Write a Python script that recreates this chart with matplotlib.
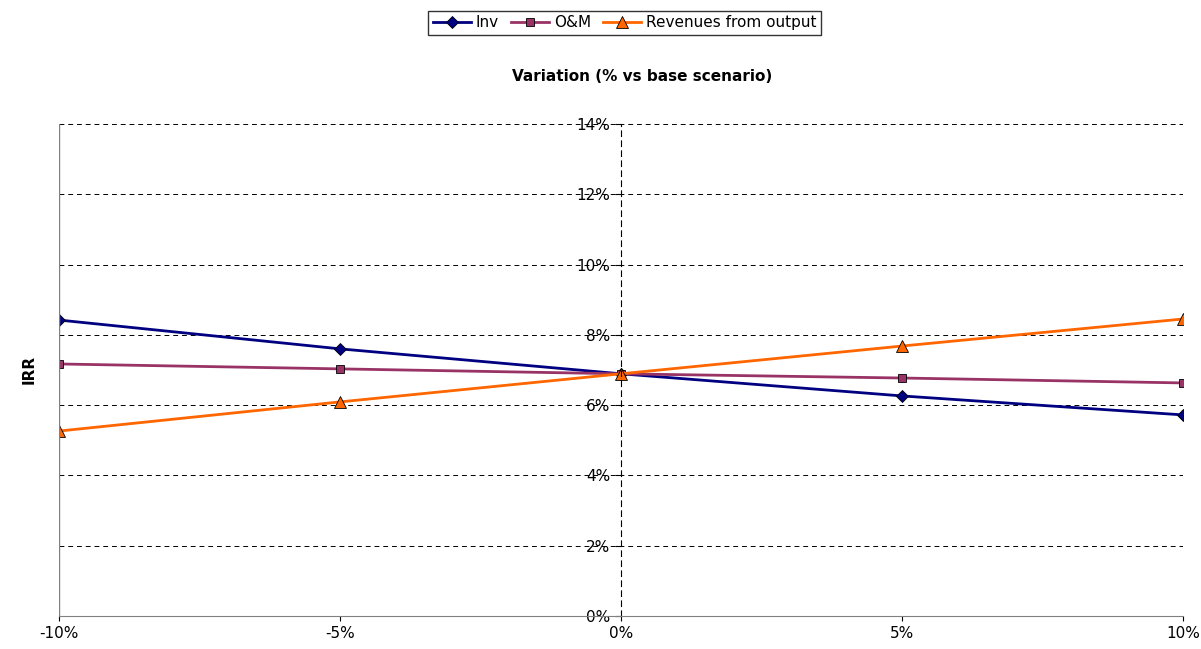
import matplotlib.pyplot as plt
from matplotlib.ticker import FuncFormatter

variation = [-10, -5, 0, 5, 10]
inv = [8.42, 7.60, 6.89, 6.26, 5.72]
om = [7.17, 7.03, 6.89, 6.77, 6.63]
revenues = [5.26, 6.09, 6.89, 7.68, 8.45]

fig = plt.figure(figsize=(12.01, 6.49), dpi=100)
ax = fig.add_axes([0.049, 0.051, 0.936, 0.758])

ax.plot(variation, inv, color='#000080', marker='D', markersize=6, lw=2,
        markeredgecolor='black', markeredgewidth=0.6, label='Inv')
ax.plot(variation, om, color='#993366', marker='s', markersize=6, lw=2,
        markeredgecolor='black', markeredgewidth=0.6, label='O&M')
ax.plot(variation, revenues, color='#FF6600', marker='^', markersize=8, lw=2,
        markeredgecolor='black', markeredgewidth=0.6, label='Revenues from output')

ax.set_xlim(-10, 10)
ax.set_ylim(0, 14)
ax.set_xticks(variation)
ax.set_yticks(range(0, 15, 2))
ax.xaxis.set_major_formatter(FuncFormatter(lambda v, p: f'{v:.0f}%'))
ax.yaxis.set_major_formatter(FuncFormatter(lambda v, p: f'{v:.0f}%'))
ax.yaxis.grid(True, linestyle=(0, (5, 4)), color='black', lw=0.7)
ax.set_axisbelow(True)

ax.spines['left'].set_position(('data', 0))
ax.spines['left'].set_linestyle((0, (5, 4)))
ax.spines['left'].set_linewidth(0.8)
ax.spines['top'].set_visible(False)
ax.spines['right'].set_visible(False)
ax.spines['bottom'].set_color('#808080')
ax.axvline(-10, color='#808080', lw=1)
ax.tick_params(labelsize=11)
ax.tick_params(axis='y', length=4, direction='out')

ax.set_ylabel('')
fig.text(0.018, 0.43, 'IRR', rotation=90, fontsize=11, fontweight='bold', va='center')
fig.text(0.535, 0.875, 'Variation (% vs base scenario)', fontsize=11,
         fontweight='bold', ha='center')

fig.legend(loc='upper center', bbox_to_anchor=(0.52, 0.995), ncol=3, fontsize=11,
           frameon=True, fancybox=False, edgecolor='black', handlelength=2.5,
           columnspacing=0.8, handletextpad=0.3, borderpad=0.3)

fig.savefig('out.png')
